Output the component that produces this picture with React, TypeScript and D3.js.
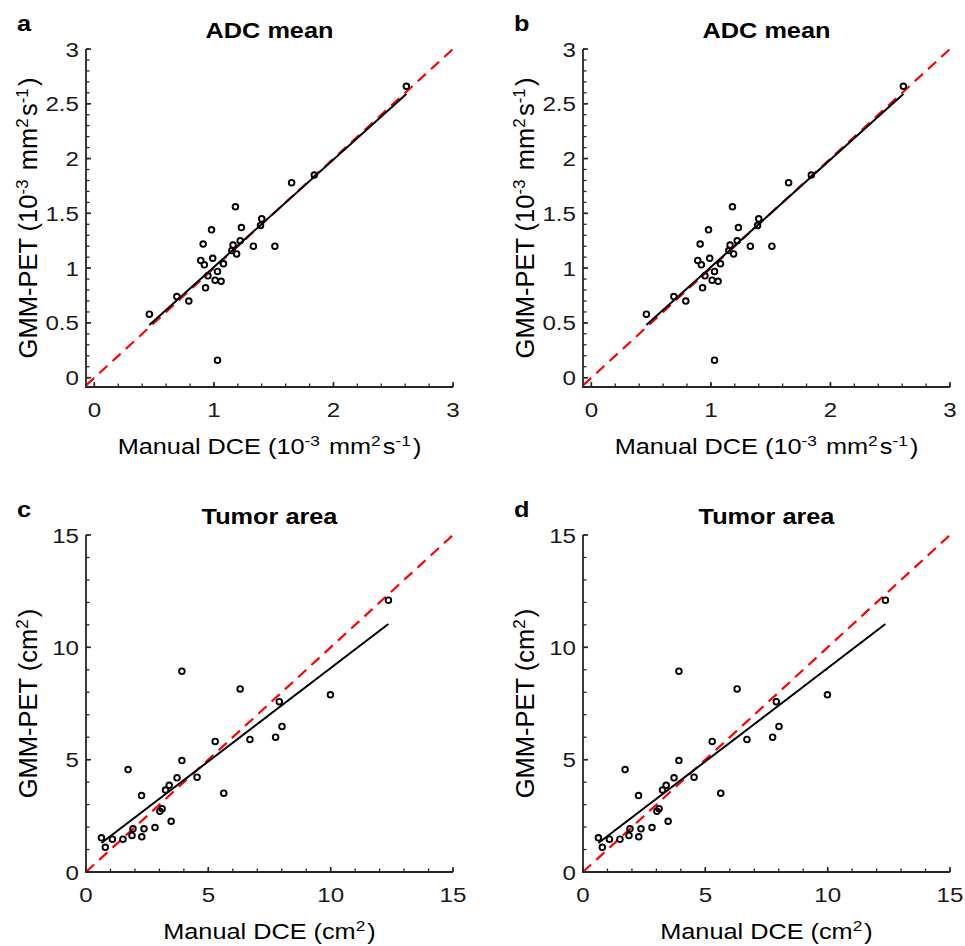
import React from "react";
import * as d3 from "d3";

// ADC mean (10^-3 mm^2 s^-1)
const adcManual = [0.46, 0.69, 0.79, 0.89, 0.92, 0.91, 0.98, 0.95, 0.93, 0.99, 1.03, 1.01, 1.06, 1.08, 1.03, 1.15, 1.16, 1.19, 1.18, 1.22, 1.23, 1.33, 1.39, 1.40, 1.51, 1.65, 1.84, 2.61];
const adcGmm = [0.58, 0.74, 0.70, 1.07, 1.03, 1.22, 1.35, 0.93, 0.82, 1.09, 0.97, 0.89, 0.88, 1.04, 0.16, 1.16, 1.21, 1.13, 1.56, 1.25, 1.37, 1.20, 1.39, 1.45, 1.20, 1.78, 1.85, 2.66];
const adcFitX = [0.46, 2.61];
const adcFitY = [0.48, 2.59];

// Tumor area (cm^2)
const areaManual = [0.63, 0.79, 1.08, 1.51, 1.72, 1.88, 1.92, 2.28, 2.37, 2.27, 2.82, 3.02, 3.11, 3.25, 3.40, 3.48, 3.72, 3.92, 3.92, 4.54, 5.28, 5.63, 6.30, 6.70, 7.75, 7.90, 8.01, 9.99, 12.36];
const areaGmm = [1.52, 1.10, 1.46, 1.46, 4.56, 1.63, 1.92, 1.57, 1.92, 3.40, 1.98, 2.70, 2.82, 3.65, 3.86, 2.26, 4.19, 4.96, 8.94, 4.22, 5.81, 3.51, 8.15, 5.90, 6.00, 7.58, 6.48, 7.89, 12.10];
const areaFitX = [0.63, 12.36];
const areaFitY = [1.29, 11.04];

const adcXTicks = [0, 1, 2, 3];
const adcYTicks = [0, 0.5, 1, 1.5, 2, 2.5, 3];
const areaTicks = [0, 5, 10, 15];

const FONT = "'Liberation Sans', Arial, Helvetica, sans-serif";
const SX = 1.15; // reference glyphs are a bit wider than tall
const AXC = "#262626";

function Sup(props: { children: string; size?: number; rise?: number }) {
  const r = props.rise || 8;
  return (
    <>
      <tspan dy={-r} fontSize={props.size || 15}>{props.children}</tspan>
      <tspan dy={r}>{"\u200a"}</tspan>
    </>
  );
}

function Panel(props: any) {
  const { letter, title, left, top, w, h, xDomain, yDomain, xTicks, yTicks, xMinor, yMinor, xs, ys, fitX, fitY, xLabel, yLabel, fmt } = props;
  const x = d3.scaleLinear().domain(xDomain).range([left, left + w]);
  const y = d3.scaleLinear().domain(yDomain).range([top + h, top]);
  const bottom = top + h;
  const lo = Math.max(xDomain[0], yDomain[0]);
  const hi = Math.min(xDomain[1], yDomain[1]);
  const xm = d3.range(Math.ceil(xDomain[0] / xMinor), Math.floor(xDomain[1] / xMinor) + 1).map((i) => i * xMinor);
  const ym = d3.range(Math.ceil(yDomain[0] / yMinor), Math.floor(yDomain[1] / yMinor) + 1).map((i) => i * yMinor);
  const line = d3.line<number>().x((_, i) => x(fitX[i])).y((d) => y(d));
  const cx = left + w / 2;
  const cy = top + h / 2;
  return (
    <g fontFamily={FONT} fill="#000">
      <text transform={`translate(${left - 69},${top - 18}) scale(${SX},1)`} fontSize={22} fontWeight="bold">{letter}</text>
      <text transform={`translate(${cx},${top - 11}) scale(${SX},1)`} fontSize={22} fontWeight="bold" textAnchor="middle">{title}</text>
      {/* identity line */}
      <line x1={x(lo)} y1={y(lo)} x2={x(hi)} y2={y(hi)} stroke="#ff0000" strokeWidth={2.2} strokeDasharray="11,7" />
      {/* regression */}
      <path d={line(fitY) || ""} stroke="#000" strokeWidth={2} fill="none" />
      {xs.map((v: number, i: number) => (
        <circle key={i} cx={x(v)} cy={y(ys[i])} r={2.8} fill="none" stroke="#000" strokeWidth={1.9} />
      ))}
      {/* axes */}
      <path d={`M${left},${top}V${bottom}H${left + w}`} stroke={AXC} strokeWidth={1.8} fill="none" />
      {xm.map((v: number, i: number) => (
        <line key={"xm" + i} x1={x(v)} x2={x(v)} y1={bottom} y2={bottom - 3.5} stroke={AXC} strokeWidth={1.3} />
      ))}
      {ym.map((v: number, i: number) => (
        <line key={"ym" + i} y1={y(v)} y2={y(v)} x1={left} x2={left + 3.5} stroke={AXC} strokeWidth={1.3} />
      ))}
      {xTicks.map((v: number) => (
        <g key={"xt" + v}>
          <line x1={x(v)} x2={x(v)} y1={bottom} y2={bottom - 5} stroke={AXC} strokeWidth={1.6} />
          <text transform={`translate(${x(v)},${bottom + 30}) scale(${SX},1)`} fontSize={21} textAnchor="middle" fill="#1a1a1a">{fmt(v)}</text>
        </g>
      ))}
      {yTicks.map((v: number) => (
        <g key={"yt" + v}>
          <line y1={y(v)} y2={y(v)} x1={left} x2={left + 5} stroke={AXC} strokeWidth={1.6} />
          <text transform={`translate(${left - 7},${y(v) + 7.5}) scale(${SX},1)`} fontSize={21} textAnchor="end" fill="#1a1a1a">{fmt(v)}</text>
        </g>
      ))}
      <text transform={`translate(${cx},${bottom + 67}) scale(${SX},1)`} fontSize={22} textAnchor="middle">{xLabel}</text>
      <text transform={`translate(${left - 49},${cy}) rotate(-90)`} fontSize={25.5} textAnchor="middle">{yLabel}</text>
    </g>
  );
}

export default function App() {
  const adcX = <>Manual DCE (10<Sup>-3</Sup> mm<Sup>2</Sup>s<Sup>-1</Sup>)</>;
  const adcY = <>GMM-PET (10<Sup size={17} rise={9}>-3</Sup> mm<Sup size={17} rise={9}>2</Sup>s<Sup size={17} rise={9}>-1</Sup>)</>;
  const areaX = <>Manual DCE (cm<Sup>2</Sup>)</>;
  const areaY = <>GMM-PET (cm<Sup size={17} rise={9}>2</Sup>)</>;
  const fmt = d3.format("~g");
  const adc = {
    title: "ADC mean", w: 367, h: 338, xDomain: [-0.07, 3], yDomain: [-0.085, 3],
    xTicks: adcXTicks, yTicks: adcYTicks, xMinor: 0.2, yMinor: 0.1,
    xs: adcManual, ys: adcGmm, fitX: adcFitX, fitY: adcFitY, xLabel: adcX, yLabel: adcY, fmt,
  };
  const area = {
    title: "Tumor area", w: 367, h: 337, xDomain: [0, 15], yDomain: [0, 15],
    xTicks: areaTicks, yTicks: areaTicks, xMinor: 1, yMinor: 1,
    xs: areaManual, ys: areaGmm, fitX: areaFitX, fitY: areaFitY, xLabel: areaX, yLabel: areaY, fmt,
  };
  return (
    <svg width={965} height={946} style={{ position: "absolute", left: 0, top: 0, background: "#fff" }}>
      <Panel letter="a" left={86} top={49} {...adc} />
      <Panel letter="b" left={583} top={49} {...adc} />
      <Panel letter="c" left={86} top={535} {...area} />
      <Panel letter="d" left={583} top={535} {...area} />
    </svg>
  );
}
